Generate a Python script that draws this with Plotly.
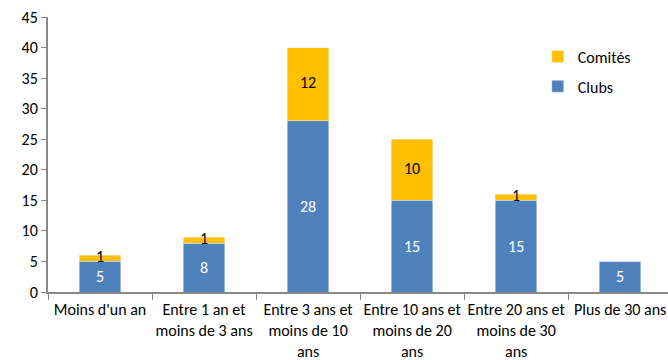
import plotly.graph_objects as go

categories = [
    "Moins d'un an",
    "Entre 1 an et<br>moins de 3 ans",
    "Entre 3 ans et<br>moins de 10<br>ans",
    "Entre 10 ans et<br>moins de 20<br>ans",
    "Entre 20 ans et<br>moins de 30<br>ans",
    "Plus de 30 ans",
]
clubs = [5, 8, 28, 15, 15, 5]
comites = [1, 1, 12, 10, 1, 0]

FONT = "Carlito, 'Liberation Sans Narrow', 'Open Sans', sans-serif"
BLUE = "#4F81BD"
YELLOW = "#FFC000"

fig = go.Figure()
fig.add_trace(go.Bar(
    x=categories, y=clubs, name="Clubs", marker_color=BLUE, width=0.4,
    text=[str(v) for v in clubs], textposition="inside", insidetextanchor="middle",
    textfont=dict(color="white", size=16, family=FONT), legendgroup="a",
    legendrank=2,
))
fig.add_trace(go.Bar(
    x=categories, y=comites, name="Comités", marker_color=YELLOW, width=0.4,
    legendgroup="b", legendrank=1,
))
fig.add_trace(go.Scatter(
    x=categories, y=[c + m / 2 for c, m in zip(clubs, comites)],
    mode="text", text=[str(m) if m else "" for m in comites],
    textfont=dict(color="black", size=16, family=FONT),
    showlegend=False, cliponaxis=False, hoverinfo="skip",
))

fig.update_layout(
    barmode="stack",
    width=668, height=360,
    margin=dict(l=48, r=0, t=17, b=68),
    paper_bgcolor="white", plot_bgcolor="white",
    font=dict(family=FONT, size=16, color="black"),
    legend=dict(x=0.79, y=0.918, xanchor="left", yanchor="top",
                traceorder="grouped", tracegroupgap=6,
                font=dict(size=16), itemwidth=30),
)
fig.update_xaxes(
    range=[-0.5, 5.46], showline=True, linecolor="#888888", linewidth=2,
    ticks="outside", tickson="boundaries", ticklen=6, tickcolor="#888888",
    showgrid=False, tickfont=dict(size=16), tickangle=0, automargin=False,
    ticklabelstandoff=2,
)
fig.update_yaxes(
    range=[0, 45], dtick=5, showline=True, linecolor="#888888", linewidth=2,
    ticks="outside", ticklen=5, tickcolor="#888888", showgrid=False,
    zeroline=False, tickfont=dict(size=16), automargin=False,
)

fig.write_html("out.html")
